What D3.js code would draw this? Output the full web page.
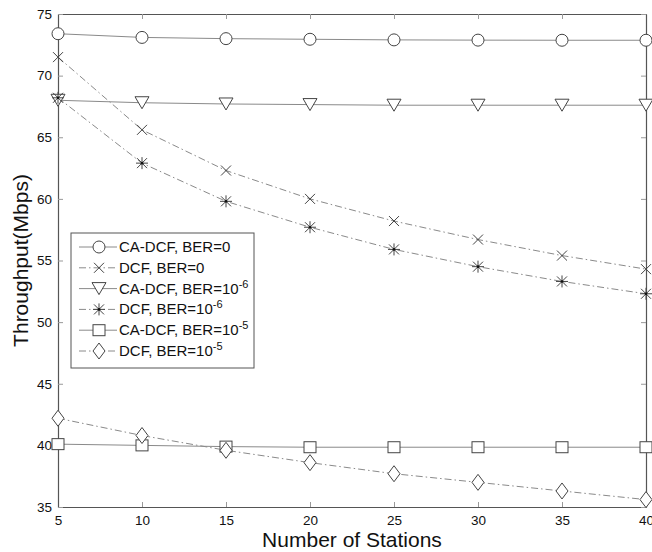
<!DOCTYPE html>
<html>
<head>
<meta charset="utf-8">
<title>Throughput vs stations</title>
<script src="https://d3js.org/d3.v7.min.js"></script>
<style>
  body { margin: 0; background: #fff; }
  text { font-family: Arial, "Liberation Sans", sans-serif; }
</style>
</head>
<body>
<script type="text/javascript">
	var screenWidth  = 652;
	var screenHeight = 552;

	// data
	var stations      = [5, 10, 15, 20, 25, 30, 35, 40];
	var caDcfBer0     = [73.4, 73.1, 73.0, 72.95, 72.9, 72.88, 72.87, 72.87];
	var dcfBer0       = [71.5, 65.6, 62.3, 60.0, 58.2, 56.7, 55.4, 54.3];
	var caDcfBer6     = [68.0, 67.8, 67.7, 67.65, 67.6, 67.6, 67.6, 67.6];
	var dcfBer6       = [68.2, 62.9, 59.8, 57.7, 55.9, 54.5, 53.3, 52.3];
	var caDcfBer5     = [40.1, 40.0, 39.9, 39.85, 39.85, 39.85, 39.85, 39.85];
	var dcfBer5       = [42.2, 40.8, 39.6, 38.6, 37.7, 37.0, 36.3, 35.6];
	var xTicks        = [5, 10, 15, 20, 25, 30, 35, 40];
	var yTicks        = [35, 40, 45, 50, 55, 60, 65, 70, 75];

	var series = [
		{ label: "CA-DCF, BER=0",  exp: null, values: caDcfBer0, marker: "circle",   dashed: false },
		{ label: "DCF, BER=0",     exp: null, values: dcfBer0,   marker: "cross",    dashed: true  },
		{ label: "CA-DCF, BER=10", exp: "-6", values: caDcfBer6, marker: "triangle", dashed: false },
		{ label: "DCF, BER=10",    exp: "-6", values: dcfBer6,   marker: "star",     dashed: true  },
		{ label: "CA-DCF, BER=10", exp: "-5", values: caDcfBer5, marker: "square",   dashed: false },
		{ label: "DCF, BER=10",    exp: "-5", values: dcfBer5,   marker: "diamond",  dashed: true  }
	];

	// plot box (note: "top" is reserved on window, so prefixed names)
	var plotLeft = 58, plotRight = 646, plotTop = 14, plotBottom = 507;
	var lineColour   = "#8a8a8a";
	var markerColour = "#444";
	var axisColour   = "#555";

	var xScale = d3.scaleLinear().domain([5, 40]).range([plotLeft, plotRight]);
	var yScale = d3.scaleLinear().domain([35, 75]).range([plotBottom, plotTop]);

	var svg = d3.select("body").append("svg")
		.attr("width", screenWidth)
		.attr("height", screenHeight);

	// axes (inward ticks, mirrored on top/right like a boxed plot)
	var axB = svg.append("g").attr("transform", "translate(0," + plotBottom + ")")
		.call(d3.axisBottom(xScale).tickValues(xTicks).tickSize(-5).tickPadding(8).tickSizeOuter(0));
	var axT = svg.append("g").attr("transform", "translate(0," + plotTop + ")")
		.call(d3.axisTop(xScale).tickValues(xTicks).tickSize(-5).tickFormat("").tickSizeOuter(0));
	var axL = svg.append("g").attr("transform", "translate(" + plotLeft + ",0)")
		.call(d3.axisLeft(yScale).tickValues(yTicks).tickSize(-5).tickPadding(6).tickSizeOuter(0));
	var axR = svg.append("g").attr("transform", "translate(" + plotRight + ",0)")
		.call(d3.axisRight(yScale).tickValues(yTicks).tickSize(-5).tickFormat("").tickSizeOuter(0));

	[axB, axT, axL, axR].forEach(function(g) {
		g.select(".domain").attr("stroke", axisColour).attr("stroke-width", 1.2);
		g.selectAll(".tick line").attr("stroke", "#999");
		g.selectAll(".tick text").attr("fill", "#111").style("font-size", "13.5px")
			.style("font-family", "Arial, 'Liberation Sans', sans-serif");
	});

	// axis labels
	svg.append("text")
		.attr("x", (plotLeft + plotRight) / 2).attr("y", 547)
		.attr("text-anchor", "middle")
		.style("font-size", "21px").attr("fill", "#111")
		.text("Number of Stations");
	svg.append("text")
		.attr("transform", "translate(28," + ((plotTop + plotBottom) / 2) + ") rotate(-90)")
		.attr("text-anchor", "middle")
		.style("font-size", "21px").attr("fill", "#111")
		.text("Throughput(Mbps)");

	var line = d3.line()
		.x(function(d, i) { return xScale(stations[i]); })
		.y(function(d) { return yScale(d); });

	function drawMarker(g, type, cx, cy) {
		var s = g.append("g").attr("transform", "translate(" + cx + "," + cy + ")")
			.attr("fill", "#fff").attr("stroke", markerColour).attr("stroke-width", 1);
		if (type === "circle") {
			s.append("circle").attr("r", 6);
		} else if (type === "square") {
			s.append("rect").attr("x", -6).attr("y", -5.5).attr("width", 12).attr("height", 11);
		} else if (type === "triangle") {
			s.append("path").attr("d", "M-7,-6L7,-6L0,6Z");
		} else if (type === "diamond") {
			s.append("path").attr("d", "M0,-8L6,0L0,8L-6,0Z");
		} else if (type === "cross") {
			s.append("path").attr("d", "M-5,-5L5,5M-5,5L5,-5").attr("fill", "none");
		} else if (type === "star") {
			s.append("path").attr("d", "M-5,-5L5,5M-5,5L5,-5M0,-6L0,6M-6,0L6,0").attr("fill", "none");
			s.append("circle").attr("r", 1.3).attr("fill", "#111").attr("stroke", "none");
		}
	}

	var plot = svg.append("g");
	series.forEach(function(s) {
		plot.append("path")
			.datum(s.values)
			.attr("d", line)
			.attr("fill", "none")
			.attr("stroke", lineColour)
			.attr("stroke-width", 1)
			.attr("stroke-dasharray", s.dashed ? "7,3,1.5,3" : null);
	});
	series.forEach(function(s) {
		s.values.forEach(function(v, i) {
			drawMarker(plot, s.marker, xScale(stations[i]), yScale(v));
		});
	});

	// legend
	var legX = 71, legY = 233, legW = 183, legH = 135, rowH = 20.8;
	var leg = svg.append("g");
	leg.append("rect")
		.attr("x", legX).attr("y", legY).attr("width", legW).attr("height", legH)
		.attr("fill", "#fff").attr("stroke", axisColour).attr("stroke-width", 1);

	series.forEach(function(s, i) {
		var cy = legY + 14 + i * rowH;
		leg.append("line")
			.attr("x1", legX + 8).attr("x2", legX + 46)
			.attr("y1", cy).attr("y2", cy)
			.attr("stroke", lineColour).attr("stroke-width", 1)
			.attr("stroke-dasharray", s.dashed ? "7,3,1.5,3" : null);
		drawMarker(leg, s.marker, legX + 28, cy);
		var t = leg.append("text")
			.attr("x", legX + 48).attr("y", cy + 5)
			.style("font-size", "15px").attr("fill", "#111")
			.text(s.label);
		if (s.exp) {
			t.append("tspan").attr("dy", -6).style("font-size", "11px").text(s.exp);
		}
	});
</script>
</body>
</html>
